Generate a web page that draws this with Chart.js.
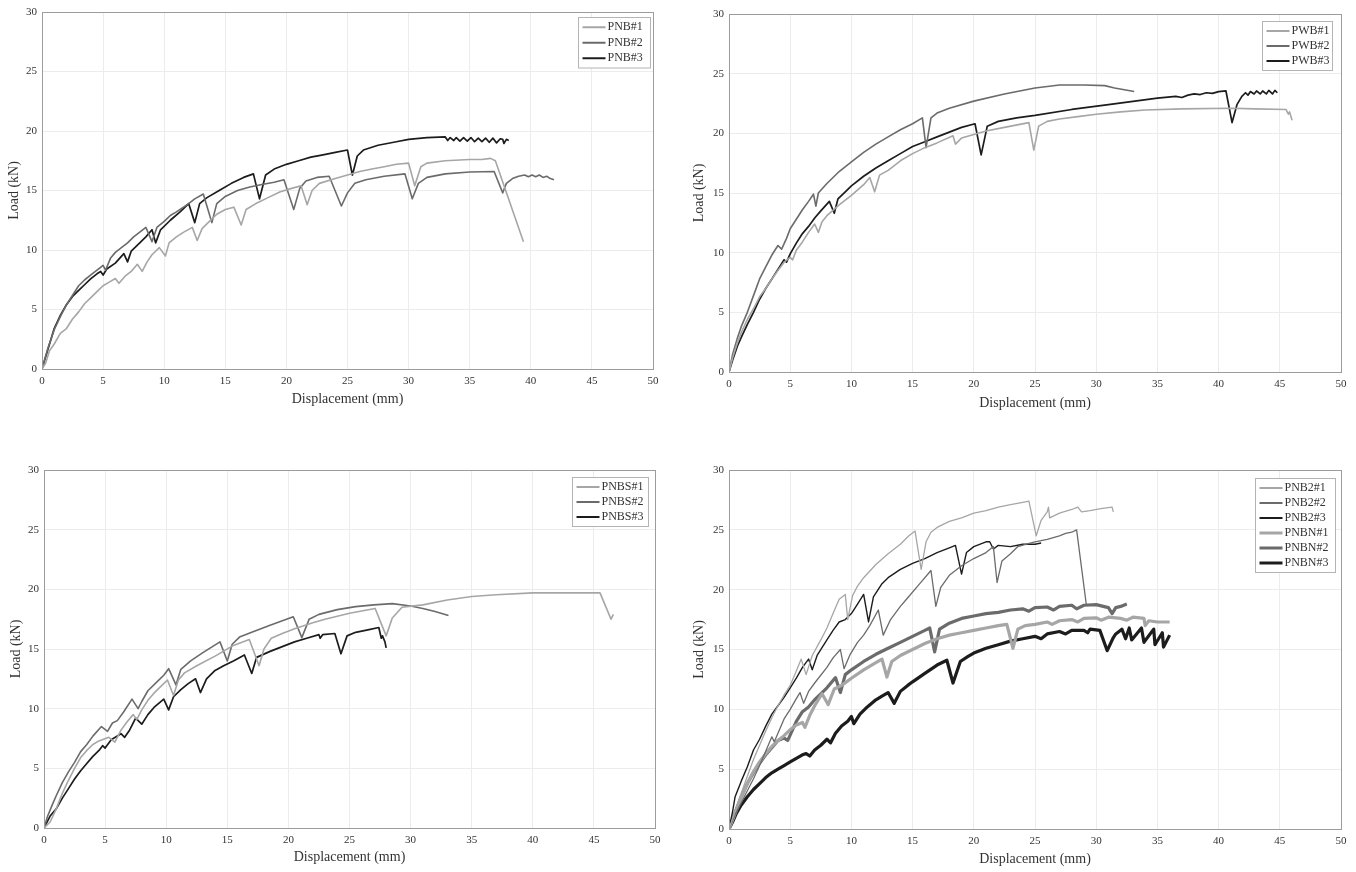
<!DOCTYPE html>
<html>
<head>
<meta charset="utf-8">
<script src="https://cdn.jsdelivr.net/npm/chart.js@4.4.0/dist/chart.umd.min.js"></script>
<style>
  body { margin: 0; background: #fff; }
  #wrap { position: relative; width: 1356px; height: 872px; }
  canvas { position: absolute; }
</style>
</head>
<body>
<div id="wrap">
  <canvas id="cPNB" width="678" height="420" style="left:0;top:0"></canvas>
  <canvas id="cPWB" width="678" height="420" style="left:678px;top:0"></canvas>
  <canvas id="cPNBS" width="678" height="432" style="left:0;top:440px"></canvas>
  <canvas id="cPNBN" width="678" height="432" style="left:678px;top:440px"></canvas>
</div>
<script>
// axis ticks (shared by all four panels)
const xTicks = [0, 5, 10, 15, 20, 25, 30, 35, 40, 45, 50];
const yTicks = [0, 5, 10, 15, 20, 25, 30];

// ---- panel 1: PNB ----
const PNB1 = [[0,0],[0.3,0.5],[0.6,1.5],[1,2.1],[1.5,3.0],[2,3.4],[2.5,4.2],[3,4.8],[3.5,5.5],[4,6.0],[4.5,6.5],[5,7.0],[5.5,7.3],[6,7.6],[6.3,7.2],[6.8,7.8],[7.3,8.2],[7.8,8.8],[8.2,8.2],[8.6,9.0],[9,9.6],[9.6,10.2],[10.1,9.5],[10.4,10.6],[11,11.1],[11.6,11.5],[12.3,11.9],[12.7,10.8],[13.1,11.8],[13.7,12.4],[14.3,13.0],[15,13.4],[15.7,13.6],[16.3,12.1],[16.7,13.4],[17.5,13.9],[18.5,14.4],[19.5,14.9],[20.5,15.2],[21.2,15.4],[21.7,13.8],[22.1,15.0],[22.7,15.6],[24,16.0],[25,16.3],[26,16.6],[27,16.8],[28,17.0],[29,17.2],[30,17.3],[30.5,15.4],[31,17.0],[31.5,17.3],[33,17.5],[35,17.6],[36,17.6],[36.7,17.7],[37.1,17.5],[39.4,10.7]];
const PNB2 = [[0,0],[0.5,1.8],[1,3.3],[1.5,4.4],[2,5.4],[2.5,6.2],[3,7.0],[3.5,7.5],[4,7.9],[4.5,8.3],[5,8.7],[5.2,8.3],[5.6,9.3],[6,9.8],[6.5,10.2],[7,10.6],[7.5,11.1],[8,11.5],[8.5,11.9],[9,10.7],[9.4,11.9],[10,12.4],[10.5,12.9],[11,13.2],[12,13.9],[12.5,14.3],[13.2,14.7],[13.9,12.3],[14.3,13.9],[15,14.5],[16,15.0],[17,15.3],[18,15.5],[19,15.7],[19.8,15.9],[20.6,13.4],[21.1,15.2],[21.6,15.8],[22.5,16.1],[23.5,16.2],[24.5,13.7],[25,14.8],[25.6,15.6],[26.5,15.9],[28,16.2],[29.7,16.4],[30.3,14.3],[30.8,15.6],[31.5,16.1],[33,16.4],[35,16.55],[37,16.6],[37.7,14.8],[38.0,15.6],[38.5,16.0],[39,16.2],[39.5,16.3],[39.8,16.15],[40.1,16.3],[40.4,16.15],[40.7,16.3],[41,16.1],[41.3,16.2],[41.6,16.0],[41.9,15.9]];
const PNB3 = [[0,0],[0.5,1.7],[1,3.4],[1.5,4.5],[2,5.4],[2.5,6.1],[3,6.6],[3.5,7.1],[4,7.6],[4.5,8.0],[4.8,8.2],[5,7.9],[5.3,8.4],[6,8.9],[6.7,9.7],[7,9.0],[7.3,9.9],[8,10.6],[8.5,11.1],[9,11.7],[9.3,10.6],[9.7,11.7],[10.5,12.5],[11.3,13.2],[12,13.9],[12.5,12.3],[12.9,13.9],[13.5,14.4],[14.5,15.0],[15.5,15.6],[16.5,16.1],[17.3,16.4],[17.8,14.3],[18.3,16.3],[19,16.8],[20,17.2],[21,17.5],[22,17.8],[23,18.0],[24,18.2],[25,18.4],[25.4,16.3],[25.8,17.9],[26.3,18.4],[27.5,18.8],[29,19.1],[30,19.3],[31.5,19.45],[33,19.5],[33.2,19.2],[33.4,19.45],[33.7,19.2],[33.9,19.45],[34.2,19.15],[34.5,19.45],[34.8,19.15],[35.1,19.45],[35.4,19.1],[35.7,19.4],[36.0,19.1],[36.3,19.4],[36.6,19.05],[36.9,19.4],[37.2,19.0],[37.5,19.35],[37.7,19.3],[37.8,18.95],[38.0,19.3],[38.2,19.2]];

// ---- panel 2: PWB ----
const PWB1 = [[0,0],[0.3,1.2],[0.7,2.5],[1,3.3],[1.5,4.4],[2,5.3],[2.5,6.3],[3,7.0],[3.5,7.8],[4,8.5],[4.5,9.2],[5,9.6],[5.2,9.4],[5.5,10.2],[6,10.9],[6.5,11.7],[7,12.4],[7.3,11.7],[7.6,12.6],[8,13.1],[9,14.0],[10,14.8],[11,15.7],[11.5,16.3],[11.9,15.1],[12.3,16.5],[13,16.9],[14,17.7],[15,18.3],[16,18.8],[17,19.2],[18.3,19.8],[18.5,19.1],[19,19.6],[20,19.9],[21,20.2],[22.5,20.5],[24.5,20.9],[24.9,18.6],[25.3,20.6],[26,21.0],[27,21.2],[28.5,21.4],[30,21.6],[32,21.8],[34,21.95],[37,22.05],[41,22.1],[43,22.05],[45.5,22.0],[45.7,21.6],[45.8,21.8],[46.0,21.1]];
const PWB2 = [[0,0],[0.3,1.5],[0.7,2.9],[1,3.8],[1.5,5.0],[2,6.4],[2.5,7.8],[3,8.8],[3.5,9.8],[4,10.6],[4.3,10.3],[4.7,11.2],[5,12.0],[5.5,12.8],[6,13.6],[6.5,14.3],[6.9,14.9],[7.1,13.9],[7.3,15.0],[8,15.8],[9,16.8],[10,17.6],[11,18.4],[12,19.1],[13,19.7],[14,20.3],[15,20.8],[15.8,21.3],[16.1,18.8],[16.5,21.3],[17,21.7],[18,22.1],[20,22.7],[22.5,23.3],[25,23.8],[27,24.05],[29,24.05],[30.7,24.0],[31.5,23.8],[33.1,23.5]];
const PWB3 = [[0,0],[0.3,1.0],[0.7,2.2],[1,2.9],[1.5,4.0],[2,5.0],[2.5,6.1],[3,7.0],[3.5,7.8],[4,8.6],[4.5,9.4],[4.7,9.2],[5,9.9],[5.5,10.8],[6,11.6],[6.5,12.2],[7,12.9],[7.5,13.5],[8.2,14.3],[8.6,13.3],[8.9,14.5],[9.5,15.1],[10,15.6],[11,16.4],[12,17.1],[13,17.7],[14,18.3],[15,18.9],[16,19.3],[17,19.7],[18,20.1],[19,20.5],[20.1,20.8],[20.6,18.2],[21.1,20.6],[22,21.0],[23.5,21.3],[25,21.5],[28,22.0],[31,22.4],[35,22.95],[36.5,23.1],[37,23.0],[37.5,23.2],[38,23.3],[38.5,23.25],[39,23.4],[39.5,23.35],[40,23.5],[40.6,23.55],[41.1,20.9],[41.5,22.4],[41.9,23.1],[42.2,23.4],[42.4,23.2],[42.6,23.5],[42.9,23.3],[43.1,23.55],[43.4,23.3],[43.6,23.55],[43.9,23.3],[44.1,23.6],[44.4,23.3],[44.6,23.6],[44.8,23.4]];

// ---- panel 3: PNBS ----
const PNBS1 = [[0,0],[0.5,0.5],[1,1.6],[1.5,2.9],[2,4.0],[2.5,5.0],[3,5.9],[3.5,6.5],[4,7.0],[4.5,7.3],[5.3,7.6],[5.8,7.2],[6.3,8.2],[6.8,8.9],[7.3,9.5],[7.6,9.1],[8,9.9],[8.5,10.7],[9,11.3],[9.5,11.8],[10.1,12.4],[10.6,11.1],[11,12.4],[11.5,13.0],[12.5,13.6],[14,14.4],[15.5,15.3],[16.8,15.8],[17.6,13.6],[18,15.0],[18.6,15.9],[19.5,16.3],[20.5,16.7],[22,17.2],[23,17.5],[25,18.0],[27.1,18.4],[28,16.1],[28.5,17.6],[29.3,18.5],[31,18.7],[33,19.1],[35,19.4],[37,19.55],[40,19.7],[43,19.7],[45.5,19.7],[46.4,17.5],[46.6,17.9]];
const PNBS2 = [[0,0],[0.3,1.0],[0.7,2.0],[1,2.7],[1.5,3.8],[2,4.7],[2.5,5.5],[3,6.4],[3.5,7.0],[4,7.7],[4.7,8.5],[5.2,8.1],[5.6,8.8],[6,9.0],[6.5,9.7],[7.2,10.8],[7.7,10.0],[8,10.6],[8.5,11.5],[9.2,12.2],[9.8,12.8],[10.2,13.35],[10.8,12.0],[11.2,13.3],[12,14.0],[13,14.7],[14.4,15.6],[15,14.0],[15.4,15.4],[16,16.0],[17,16.4],[18.5,17.0],[20.4,17.7],[21.1,15.95],[21.7,17.5],[22.5,17.9],[24,18.3],[25.5,18.55],[27,18.7],[28.5,18.8],[30,18.6],[31,18.4],[32,18.15],[33.1,17.8]];
const PNBS3 = [[0,0],[0.5,1.0],[1,1.6],[1.5,2.5],[2,3.3],[2.5,4.1],[3,4.8],[3.5,5.4],[4,6.0],[4.5,6.5],[4.8,6.9],[5.0,6.7],[5.5,7.4],[6.3,7.9],[6.6,7.6],[7,8.2],[7.5,9.2],[8.0,8.7],[8.5,9.5],[9,10.1],[9.8,10.8],[10.2,9.9],[10.6,11.0],[11.2,11.6],[11.8,12.1],[12.4,12.5],[12.8,11.35],[13.3,12.5],[14,13.2],[14.7,13.6],[15.5,14.0],[16.4,14.5],[17,12.95],[17.4,14.3],[18.5,14.8],[19.5,15.2],[20.5,15.6],[21.5,15.9],[22.5,16.2],[22.6,15.9],[22.8,16.2],[23.8,16.3],[24.3,14.6],[24.8,16.1],[25.5,16.4],[26.5,16.6],[27.4,16.8],[27.6,15.9],[27.7,16.1],[27.9,15.6],[28,15.1]];

// ---- panel 4: PNB2 / PNBN ----
const PNB2_1 = [[0,0],[0.5,1.5],[1,3.0],[1.5,4.4],[2,5.8],[2.5,7.0],[3,8.2],[3.5,9.3],[4,10.3],[4.5,11.2],[5,12.0],[5.5,13.2],[5.9,14.2],[6.3,12.9],[6.8,14.5],[7.5,15.8],[8,16.8],[8.5,18.0],[9.0,19.2],[9.5,19.6],[9.7,17.5],[10.1,19.5],[10.5,20.3],[11,21.0],[12,22.1],[13,23.0],[14,23.8],[14.7,24.5],[15.2,24.9],[15.7,21.7],[16.1,24.0],[16.5,24.8],[17,25.2],[18,25.7],[19,26.0],[20,26.4],[21,26.6],[22,26.9],[23,27.1],[24,27.3],[24.5,27.4],[25.1,24.5],[25.5,25.8],[26,26.5],[26.1,26.9],[26.2,26.0],[27,26.4],[28,26.7],[28.5,26.9],[28.8,26.5],[29.5,26.6],[30.5,26.8],[31.3,26.9],[31.4,26.5]];
const PNB2_2 = [[0,0],[0.5,1.2],[1,2.2],[1.5,3.2],[2,4.2],[2.5,5.3],[3,6.5],[3.5,7.7],[3.7,7.3],[4,8.0],[4.5,9.2],[5,10.0],[5.5,10.9],[5.8,11.4],[6.1,10.5],[6.5,11.5],[7,12.2],[8,13.5],[8.5,14.3],[9.1,15.0],[9.4,13.4],[9.9,14.6],[10.5,15.6],[11,16.2],[11.5,17.0],[12.2,18.3],[12.6,16.2],[13.2,17.5],[14,18.6],[14.5,19.2],[15.5,20.4],[16.5,21.6],[16.9,18.6],[17.3,20.2],[18,21.2],[19,22.0],[20,22.6],[21,23.1],[21.6,23.6],[21.9,20.6],[22.3,22.4],[23,23.0],[23.6,23.6],[24.3,23.8],[25,24.0],[26,24.2],[27,24.5],[27.5,24.7],[28,24.8],[28.4,25.0],[29.2,18.7]];
const PNB2_3 = [[0,0],[0.3,1.5],[0.5,2.7],[1,4.0],[1.5,5.2],[2,6.6],[2.5,7.5],[3,8.6],[3.5,9.6],[4,10.3],[4.5,11.0],[5,11.8],[5.5,12.6],[6,13.5],[6.5,14.2],[6.8,13.3],[7.2,14.5],[8,15.8],[8.5,16.6],[9,17.3],[9.5,17.5],[10,18.0],[10.5,18.8],[11,19.6],[11.4,17.3],[11.8,19.4],[12.5,20.5],[13,21.0],[14,21.7],[15,22.2],[16,22.6],[17,23.1],[18,23.5],[18.5,23.7],[19,21.3],[19.4,23.1],[20,23.6],[21,24.0],[21.3,24.0],[21.6,23.4],[22,23.7],[23,23.6],[24,23.8],[25,23.8],[25.5,23.9]];
const PNBN1 = [[0,0],[0.5,1.3],[1,2.6],[1.5,3.8],[2,4.8],[2.5,5.6],[3,6.3],[3.5,6.9],[4,7.4],[4.5,7.8],[5,8.3],[5.5,8.7],[6,8.9],[6.2,8.5],[6.6,9.5],[7,10.3],[7.6,11.3],[8.1,10.4],[8.6,11.7],[9.2,12.0],[10,12.6],[11,13.3],[12,13.9],[12.5,14.2],[12.9,12.7],[13.3,14.0],[14,14.5],[15,15.0],[16,15.5],[17,15.9],[18,16.2],[19,16.4],[20,16.6],[21,16.8],[22,17.0],[22.7,17.1],[23.2,15.1],[23.6,16.7],[24.2,17.0],[25,17.1],[26,17.3],[26.4,17.1],[27,17.4],[28,17.5],[28.5,17.3],[29,17.6],[30,17.65],[30.4,17.45],[31,17.7],[32,17.6],[32.5,17.45],[33,17.7],[33.9,17.6],[34.0,17.0],[34.3,17.4],[35,17.3],[36,17.3]];
const PNBN2 = [[0,0],[0.5,1.4],[1,2.7],[1.5,3.8],[2,4.7],[2.5,5.5],[3,6.2],[3.5,6.8],[4,7.4],[4.5,7.6],[4.8,7.4],[5.2,8.3],[5.5,9.0],[6,9.8],[6.5,10.2],[7,10.8],[7.5,11.3],[8,11.8],[8.7,12.65],[9.1,11.4],[9.5,12.9],[10,13.3],[11,14.0],[12,14.6],[13,15.1],[14,15.6],[15,16.1],[16,16.6],[16.4,16.8],[16.8,14.8],[17.2,16.7],[18,17.2],[19,17.6],[20,17.8],[21,18.0],[22,18.1],[23,18.3],[24,18.4],[24.5,18.2],[25,18.5],[26,18.55],[26.5,18.3],[27,18.6],[28,18.7],[28.4,18.4],[29,18.7],[30,18.75],[31,18.5],[31.3,18.0],[31.6,18.5],[32,18.6],[32.5,18.8]];
const PNBN3 = [[0,0],[0.3,0.6],[0.6,1.3],[1,2.0],[1.5,2.7],[2,3.3],[2.5,3.8],[3,4.3],[3.5,4.7],[4,5.0],[4.5,5.3],[5,5.6],[5.5,5.9],[6,6.2],[6.3,6.3],[6.6,6.1],[7,6.6],[7.5,7.0],[8,7.5],[8.3,7.2],[8.7,8.0],[9.2,8.6],[9.7,9.0],[10,9.4],[10.2,8.8],[10.7,9.6],[11.3,10.2],[12,10.8],[12.5,11.1],[13,11.4],[13.5,10.5],[14,11.5],[14.6,12.0],[15,12.3],[16,13.0],[17,13.7],[17.8,14.1],[18.3,12.2],[18.9,14.0],[19.5,14.4],[20,14.7],[21,15.1],[22,15.4],[23,15.7],[24,15.9],[25,16.1],[25.5,15.9],[26,16.3],[27,16.5],[27.5,16.3],[28,16.6],[29,16.6],[29.3,16.4],[29.5,16.7],[30.3,16.6],[30.9,14.9],[31.4,16.0],[31.6,16.3],[32.1,16.7],[32.4,15.9],[32.7,16.8],[32.9,15.8],[33.7,16.8],[33.9,15.6],[34.7,16.7],[34.8,15.4],[35.4,16.4],[35.5,15.2],[36.0,16.2]];

const LIGHT = '#a6a6a6';
const MID = '#6b6b6b';
const DARK = '#1c1c1c';
const FONT = '"Liberation Serif", "DejaVu Serif", serif';

function series(label, pts, color, width) {
    return {
        label: label,
        data: pts.map(p => ({ x: p[0], y: p[1] })),
        borderColor: color,
        backgroundColor: color,
        borderWidth: width,
        borderJoinStyle: 'round',
        pointRadius: 0,
        showLine: true,
        fill: false,
        tension: 0
    };
}

// box around the plot area + legend drawn inside the upper right corner
const boxLegend = {
    id: 'boxLegend',
    afterDatasetsDraw(chart) {
        const { ctx, chartArea: a } = chart;
        ctx.save();
        ctx.strokeStyle = '#9c9c9c';
        ctx.lineWidth = 1;
        ctx.strokeRect(Math.round(a.left) + 0.5, Math.round(a.top) + 0.5,
            Math.round(a.right - a.left), Math.round(a.bottom - a.top));
        ctx.restore();
    },
    afterDraw(chart, args, opts) {
        const { ctx, chartArea: a } = chart;
        const sets = chart.data.datasets;
        const w = opts.width, rowH = opts.rowH;
        const h = sets.length * rowH + 4;
        const x0 = Math.round(a.right - opts.right - w) + 0.5;
        const y0 = Math.round(a.top + opts.top) + 0.5;
        ctx.save();
        ctx.fillStyle = '#fff';
        ctx.fillRect(x0, y0, w, h);
        ctx.strokeStyle = '#b4b4b4';
        ctx.lineWidth = 1;
        ctx.strokeRect(x0, y0, w, h);
        ctx.font = '12px ' + FONT;
        ctx.textBaseline = 'middle';
        sets.forEach((ds, i) => {
            const cy = y0 + 2 + rowH * i + rowH / 2;
            ctx.strokeStyle = ds.borderColor;
            ctx.lineWidth = ds.borderWidth > 2 ? 3 : 2;
            ctx.beginPath();
            ctx.moveTo(x0 + 4, cy);
            ctx.lineTo(x0 + 27, cy);
            ctx.stroke();
            ctx.fillStyle = '#333';
            ctx.fillText(ds.label, x0 + 29, cy);
        });
        ctx.restore();
    }
};

function makeChart(id, datasets, lay) {
    const ctx = document.getElementById(id);
    return new Chart(ctx, {
        type: 'scatter',
        data: { datasets },
        options: {
            responsive: false,
            animation: false,
            devicePixelRatio: 1,
            layout: { padding: { left: 0, top: lay.top, right: lay.right, bottom: 0 } },
            plugins: {
                legend: { display: false },
                tooltip: { enabled: false },
                boxLegend: lay.legend
            },
            scales: {
                x: {
                    type: 'linear',
                    min: 0, max: 50,
                    afterBuildTicks: s => { s.ticks = xTicks.map(v => ({ value: v })); },
                    afterFit: s => { s.height = lay.xh; },
                    grid: { color: '#ececec', drawTicks: false },
                    border: { display: false },
                    ticks: { padding: 6, color: '#333', font: { family: FONT, size: 11 }, maxRotation: 0 },
                    title: { display: true, text: 'Displacement (mm)', color: '#333',
                        font: { family: FONT, size: 14 }, padding: { top: 0, bottom: lay.xtp } }
                },
                y: {
                    type: 'linear',
                    min: 0, max: 30,
                    afterBuildTicks: s => { s.ticks = yTicks.map(v => ({ value: v })); },
                    afterFit: s => { s.width = lay.yw; },
                    grid: { color: '#ececec', drawTicks: false },
                    border: { display: false },
                    ticks: { padding: 5, color: '#333', font: { family: FONT, size: 11 } },
                    title: { display: true, text: 'Load (kN)', color: '#333',
                        font: { family: FONT, size: 14 }, padding: { top: lay.ytp, bottom: 0 } }
                }
            }
        },
        plugins: [boxLegend]
    });
}

makeChart('cPNB', [
    series('PNB#1', PNB1, LIGHT, 1.6),
    series('PNB#2', PNB2, MID, 1.6),
    series('PNB#3', PNB3, DARK, 1.7)
], { top: 12, right: 25, xh: 51, yw: 42, xtp: 12, ytp: 6,
     legend: { right: 3, top: 5, width: 72, rowH: 15.5 } });

makeChart('cPWB', [
    series('PWB#1', PWB1, LIGHT, 1.6),
    series('PWB#2', PWB2, MID, 1.6),
    series('PWB#3', PWB3, DARK, 1.7)
], { top: 14, right: 15, xh: 48, yw: 51, xtp: 8, ytp: 13,
     legend: { right: 9, top: 7, width: 70, rowH: 15 } });

makeChart('cPNBS', [
    series('PNBS#1', PNBS1, LIGHT, 1.6),
    series('PNBS#2', PNBS2, MID, 1.6),
    series('PNBS#3', PNBS3, DARK, 1.7)
], { top: 30, right: 23, xh: 44, yw: 44, xtp: 6, ytp: 8,
     legend: { right: 7, top: 7, width: 76, rowH: 15 } });

makeChart('cPNBN', [
    series('PNB2#1', PNB2_1, LIGHT, 1.3),
    series('PNB2#2', PNB2_2, MID, 1.3),
    series('PNB2#3', PNB2_3, DARK, 1.4),
    series('PNBN#1', PNBN1, LIGHT, 3.2),
    series('PNBN#2', PNBN2, MID, 3.2),
    series('PNBN#3', PNBN3, DARK, 3.2)
], { top: 30, right: 15, xh: 43, yw: 51, xtp: 4, ytp: 13,
     legend: { right: 6, top: 8, width: 80, rowH: 15 } });
</script>
</body>
</html>
